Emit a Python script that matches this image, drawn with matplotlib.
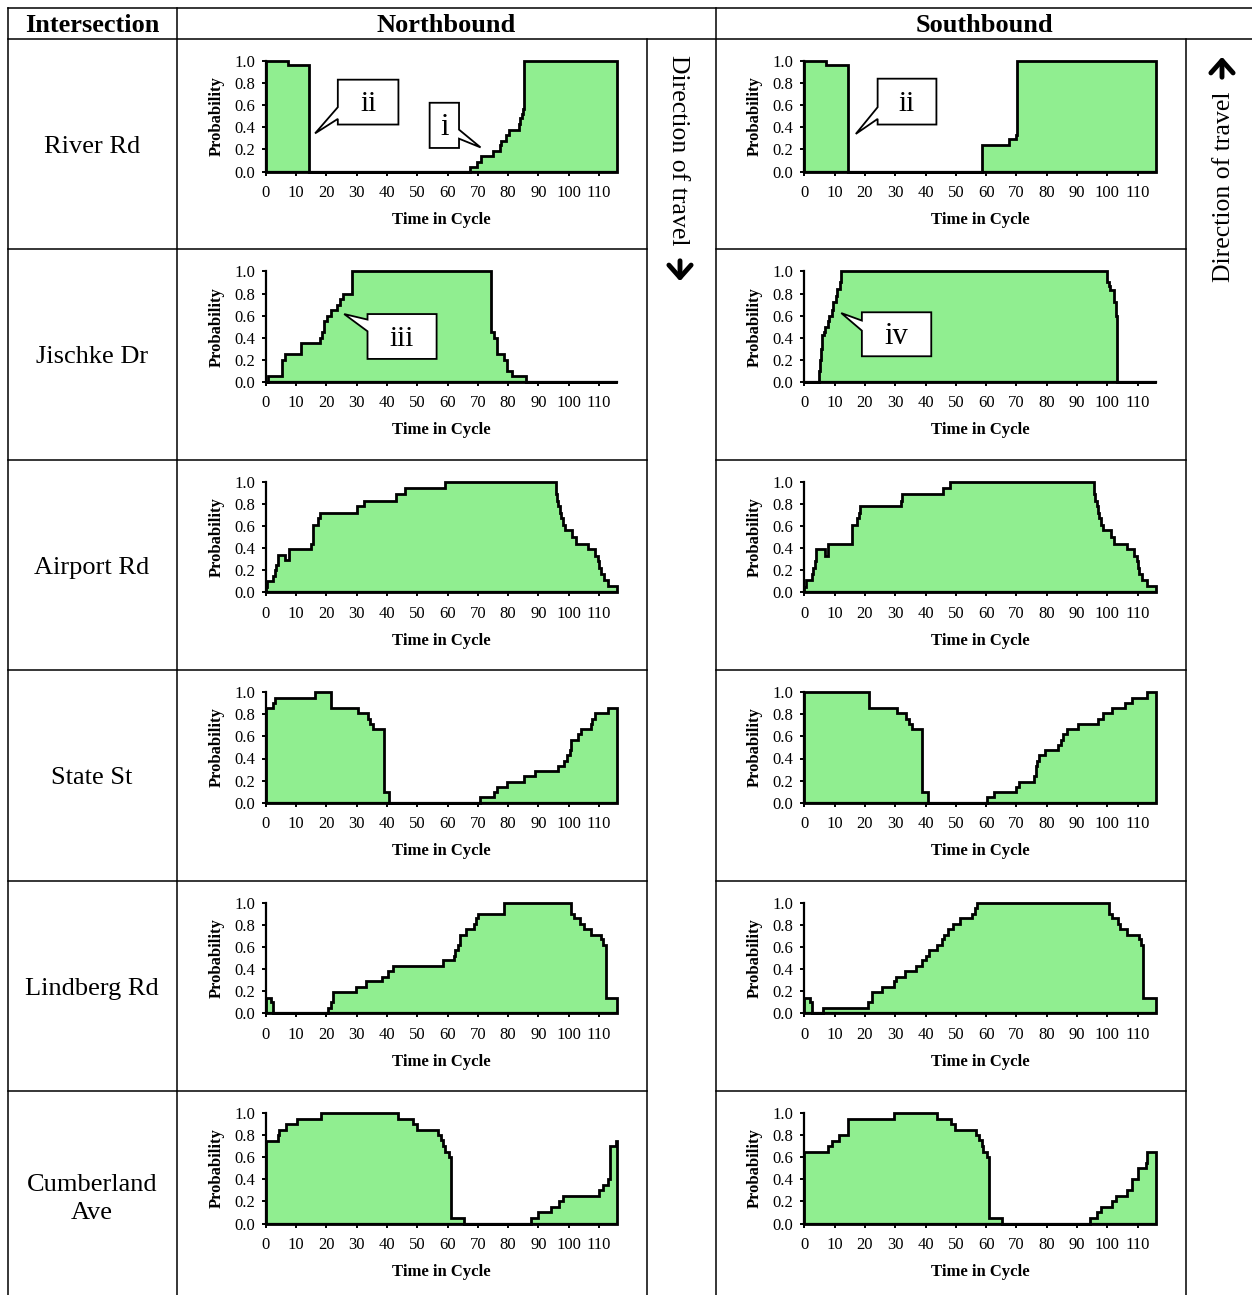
import numpy as np
import matplotlib
matplotlib.use("Agg")
import matplotlib.pyplot as plt
from matplotlib.patches import Polygon, FancyArrowPatch
from matplotlib.lines import Line2D

plt.rcParams['font.family'] = ['Liberation Serif', 'DejaVu Serif']

CYCLE = 116
GREEN = '#90ee90'

rows = ["River Rd", "Jischke Dr", "Airport Rd", "State St", "Lindberg Rd", "Cumberland\nAve"]

# step start times (s) and probabilities, northbound
nb_river_t = [0, 7.2, 14.4, 67.4, 69.8, 71.2, 75.0, 77.3, 77.8, 79.2, 80.3, 83.6, 84.0, 84.6, 85.0, 85.3]
nb_river_p = [1.0, 0.96, 0.0, 0.04, 0.09, 0.14, 0.19, 0.24, 0.28, 0.33, 0.38, 0.43, 0.48, 0.52, 0.57, 1.0]
nb_jischke_t = [0, 0.9, 5.3, 6.4, 11.6, 17.8, 18.6, 19.4, 20.2, 21.5, 23.5, 24.4, 25.4, 28.4, 74.4, 75.4, 76.3, 78.8, 79.5, 81.3, 86.0]
nb_jischke_p = [0, 0.05, 0.2, 0.25, 0.35, 0.4, 0.45, 0.55, 0.6, 0.65, 0.7, 0.75, 0.8, 1.0, 0.45, 0.4, 0.25, 0.2, 0.1, 0.05, 0.0]
nb_airport_t = [0, 0.5, 2.3, 3.0, 3.4, 3.9, 6.4, 7.7, 15.0, 15.6, 17.2, 17.9, 30.1, 32.3, 43.1, 46.1, 59.2, 95.7, 96.1, 96.6,
                97.0, 97.5, 98.0, 98.8, 101.2, 102.5, 106.4, 108.7, 109.8, 110.1, 110.5, 111.5, 113.0]
nb_airport_p = [0.05, 0.1, 0.15, 0.2, 0.25, 0.34, 0.29, 0.39, 0.44, 0.61, 0.67, 0.72, 0.78, 0.83, 0.89, 0.94, 1.0, 0.89, 0.83, 0.78,
                0.72, 0.67, 0.61, 0.56, 0.5, 0.44, 0.39, 0.33, 0.28, 0.22, 0.17, 0.11, 0.06]
nb_state_t = [0, 2.3, 3.2, 16.4, 21.6, 30.3, 33.6, 34.4, 35.5, 38.9, 40.7, 70.7, 75.3, 76.2, 79.5, 85.2, 88.8, 96.5, 98.5, 99.5,
              100.3, 100.6, 100.8, 102.9, 104.0, 107.3, 107.8, 108.6, 113.0]
nb_state_p = [0.86, 0.9, 0.95, 1.0, 0.86, 0.81, 0.76, 0.71, 0.67, 0.1, 0.0, 0.05, 0.1, 0.14, 0.19, 0.24, 0.29, 0.33, 0.38, 0.43,
              0.48, 0.52, 0.57, 0.62, 0.67, 0.71, 0.76, 0.81, 0.86]
nb_lind_t = [0, 1.65, 2.3, 20.7, 21.4, 22.2, 29.9, 33.1, 38.4, 40.2, 42.0, 58.5, 62.1, 62.5, 63.3, 64.2, 66.0, 68.9, 69.4, 70.2,
             78.8, 100.7, 101.8, 103.7, 104.9, 107.3, 110.6, 111.3, 112.2]
nb_lind_p = [0.14, 0.1, 0.0, 0.05, 0.1, 0.19, 0.24, 0.29, 0.33, 0.38, 0.43, 0.48, 0.52, 0.57, 0.62, 0.71, 0.76, 0.81, 0.86, 0.9,
             1.0, 0.9, 0.86, 0.81, 0.76, 0.71, 0.67, 0.62, 0.14]
nb_cumb_t = [0, 3.9, 4.5, 6.7, 10.3, 18.2, 43.7, 48.6, 49.9, 56.8, 57.8, 58.6, 59.2, 60.4, 61.0, 65.4, 87.7, 90.0, 94.0, 96.8,
             98.1, 110.0, 111.4, 113.0, 113.6, 115.7]
nb_cumb_p = [0.75, 0.8, 0.85, 0.9, 0.95, 1.0, 0.95, 0.9, 0.85, 0.8, 0.76, 0.7, 0.65, 0.6, 0.05, 0.0, 0.05, 0.1, 0.15, 0.2,
             0.25, 0.3, 0.35, 0.4, 0.7, 0.75]

# southbound
sb_river_t = [0, 7.3, 14.3, 58.6, 67.7, 69.9, 70.2]
sb_river_p = [1.0, 0.96, 0.0, 0.24, 0.29, 0.33, 1.0]
sb_jischke_t = [0, 5.0, 5.2, 5.4, 5.6, 5.8, 6.0, 6.4, 6.8, 7.7, 8.3, 9.0, 9.6, 10.3, 10.7, 11.7, 12.2, 99.8, 100.6, 101.0,
                102.2, 102.8, 103.2]
sb_jischke_p = [0, 0.1, 0.2, 0.25, 0.3, 0.38, 0.42, 0.45, 0.5, 0.55, 0.6, 0.65, 0.72, 0.78, 0.84, 0.9, 1.0, 0.9, 0.87, 0.83,
                0.72, 0.6, 0.0]
sb_airport_t = [0, 0.5, 2.4, 3.0, 3.4, 3.8, 6.7, 7.8, 15.6, 17.4, 17.9, 18.3, 31.9, 32.4, 45.8, 48.2, 95.6, 96.1, 96.5, 97.0,
                97.4, 97.9, 98.7, 101.1, 102.3, 106.4, 108.8, 109.8, 110.2, 110.5, 111.5, 113.2]
sb_airport_p = [0.05, 0.11, 0.17, 0.22, 0.28, 0.39, 0.33, 0.44, 0.61, 0.67, 0.72, 0.78, 0.83, 0.89, 0.94, 1.0, 0.89, 0.83, 0.78, 0.72,
                0.67, 0.61, 0.56, 0.5, 0.44, 0.39, 0.33, 0.28, 0.22, 0.17, 0.11, 0.06]
sb_state_t = [0, 21.5, 30.5, 33.6, 34.4, 35.6, 38.9, 40.7, 60.4, 62.6, 69.8, 70.7, 75.8, 76.3, 76.8, 77.4, 79.5, 83.8, 84.6, 85.4,
              86.8, 90.3, 96.9, 98.5, 101.4, 106.0, 108.0, 113.0]
sb_state_p = [1.0, 0.86, 0.81, 0.76, 0.71, 0.67, 0.1, 0.0, 0.05, 0.1, 0.14, 0.19, 0.24, 0.33, 0.38, 0.43, 0.48, 0.52, 0.57, 0.62,
              0.67, 0.71, 0.76, 0.81, 0.86, 0.9, 0.95, 1.0]
sb_lind_t = [0, 1.75, 2.5, 6.3, 21.0, 22.4, 25.7, 29.7, 30.2, 33.2, 36.7, 38.9, 40.3, 41.3, 43.8, 45.3, 46.2, 47.3, 49.1, 51.5,
             55.3, 56.3, 57.0, 100.7, 101.6, 103.4, 104.3, 106.6, 110.5, 111.0, 111.9]
sb_lind_p = [0.14, 0.1, 0.0, 0.05, 0.1, 0.19, 0.24, 0.29, 0.33, 0.38, 0.43, 0.48, 0.52, 0.57, 0.62, 0.67, 0.71, 0.76, 0.81, 0.86,
             0.9, 0.95, 1.0, 0.9, 0.86, 0.81, 0.76, 0.71, 0.67, 0.62, 0.14]
sb_cumb_t = [0, 7.7, 9.1, 11.6, 14.4, 29.5, 43.7, 48.5, 49.7, 56.7, 57.7, 58.5, 59.1, 60.4, 61.0, 65.4, 94.3, 96.7, 98.0, 101.4,
             102.9, 106.4, 108.0, 110.2, 112.7, 113.1]
sb_cumb_p = [0.65, 0.7, 0.75, 0.8, 0.95, 1.0, 0.95, 0.9, 0.85, 0.8, 0.76, 0.7, 0.65, 0.6, 0.05, 0.0, 0.05, 0.1, 0.15, 0.2,
             0.25, 0.3, 0.4, 0.5, 0.55, 0.65]

W, H = 1252, 1295


def fx(px):
    return px / W


def fy(py):
    return 1 - py / H


def step_poly(t, p):
    edges = list(t) + [CYCLE]
    xs = np.repeat(edges, 2)[1:-1]
    ys = np.repeat(p, 2)
    xs = np.concatenate([[0], xs, [CYCLE]])
    ys = np.concatenate([[0], ys, [0]])
    return xs, ys


def callout(ax, box, side, ya, yb, tip, label, size):
    x0, x1, y0, y1 = box
    if side == 'left':
        pts = [(x0, y1), (x1, y1), (x1, y0), (x0, y0), (x0, ya), tip, (x0, yb)]
    else:
        pts = [(x0, y1), (x1, y1), (x1, yb), tip, (x1, ya), (x1, y0), (x0, y0)]
    ax.add_patch(Polygon(pts, closed=True, facecolor='white', edgecolor='black',
                         lw=1.3, clip_on=False, zorder=5, joinstyle='miter'))
    ax.text((x0 + x1) / 2, (y0 + y1) / 2 - 0.02, label, fontsize=size, ha='center', va='center', zorder=6)


def draw_panel(row, col, t, p):
    left = 265.7 + col * 538.6
    top = 61 + row * 210.4
    ax = fig.add_axes([fx(left), fy(top + 110.5), 351.5 / W, 110.5 / H])
    xs, ys = step_poly(t, p)
    ax.fill(xs, ys, facecolor=GREEN, edgecolor='black', lw=2.0, clip_on=False, joinstyle='miter')
    ax.set_xlim(0, CYCLE)
    ax.set_ylim(0, 1)
    ax.set_xticks(np.arange(0, 111, 10))
    ax.set_yticks(np.arange(0, 1.01, 0.2))
    ax.set_yticklabels(['%.1f' % v for v in np.arange(0, 1.01, 0.2)])
    for s in ['top', 'right']:
        ax.spines[s].set_visible(False)
    for s in ['left', 'bottom']:
        ax.spines[s].set_linewidth(1.6)
    ax.tick_params(direction='out', length=3.2, width=1.4, labelsize=12)
    ax.tick_params(axis='x', pad=6.5)
    ax.tick_params(axis='y', pad=4.5)
    ax.set_xlabel('Time in Cycle', fontsize=12, fontweight='bold', labelpad=8)
    ax.set_ylabel('Probability', fontsize=12, fontweight='bold', labelpad=7)
    ax.set_facecolor('none')
    return ax


fig = plt.figure(figsize=(W / 100, H / 100), dpi=100)

nb = [(nb_river_t, nb_river_p), (nb_jischke_t, nb_jischke_p), (nb_airport_t, nb_airport_p),
      (nb_state_t, nb_state_p), (nb_lind_t, nb_lind_p), (nb_cumb_t, nb_cumb_p)]
sb = [(sb_river_t, sb_river_p), (sb_jischke_t, sb_jischke_p), (sb_airport_t, sb_airport_p),
      (sb_state_t, sb_state_p), (sb_lind_t, sb_lind_p), (sb_cumb_t, sb_cumb_p)]

axes_nb = [draw_panel(i, 0, t, p) for i, (t, p) in enumerate(nb)]
axes_sb = [draw_panel(i, 1, t, p) for i, (t, p) in enumerate(sb)]

# callouts
callout(axes_nb[0], (23.8, 43.8, 0.425, 0.831), 'left', 0.476, 0.582, (16.3, 0.345), 'ii', 21)
callout(axes_nb[0], (54.1, 63.8, 0.213, 0.622), 'right', 0.297, 0.379, (70.9, 0.218), 'i', 22)
callout(axes_sb[0], (24.2, 43.6, 0.425, 0.84), 'left', 0.476, 0.582, (17.0, 0.34), 'ii', 21)
callout(axes_nb[1], (33.6, 56.4, 0.208, 0.614), 'left', 0.458, 0.564, (25.9, 0.614), 'iii', 21)
callout(axes_sb[1], (19.0, 41.9, 0.232, 0.63), 'left', 0.464, 0.555, (12.2, 0.623), 'iv', 22)

# table grid
lw = 1.1
row_lines = [249, 460, 670, 881, 1091]


def hline(y, x0, x1):
    fig.add_artist(Line2D([fx(x0), fx(x1)], [fy(y), fy(y)], color='black', lw=lw))


def vline(x, y0, y1):
    fig.add_artist(Line2D([fx(x), fx(x)], [fy(y0), fy(y1)], color='black', lw=lw))


hline(8, 8, 1252)
hline(39, 8, 1252)
for y in row_lines:
    hline(y, 8, 647)
    hline(y, 716, 1186)
vline(8, 8, 1295)
vline(177, 8, 1295)
vline(716, 8, 1295)
vline(647, 39, 1295)
vline(1186, 39, 1295)

# headers
fig.text(fx(92), fy(25), 'Intersection', fontsize=19, fontweight='bold', ha='center', va='center')
fig.text(fx(446), fy(25), 'Northbound', fontsize=19, fontweight='bold', ha='center', va='center')
fig.text(fx(984), fy(25), 'Southbound', fontsize=19, fontweight='bold', ha='center', va='center')

for i, name in enumerate(rows):
    fig.text(fx(92), fy(147 + i * 210.4), name, fontsize=19, ha='center', va='center', linespacing=1.3)

# direction of travel
fig.text(fx(678), fy(150), 'Direction of travel', fontsize=18.5, rotation=270, ha='center', va='center')
fig.text(fx(1224), fy(187), 'Direction of travel', fontsize=18.5, rotation=90, ha='center', va='center')
fig.add_artist(FancyArrowPatch((fx(680), fy(258)), (fx(680), fy(284)), transform=fig.transFigure,
                               arrowstyle='->,head_length=0.45,head_width=0.4', lw=3.5,
                               mutation_scale=20, color='black'))
fig.add_artist(FancyArrowPatch((fx(1222), fy(80)), (fx(1222), fy(54)), transform=fig.transFigure,
                               arrowstyle='->,head_length=0.45,head_width=0.4', lw=3.5,
                               mutation_scale=20, color='black'))

fig.savefig('out.png', dpi=100)
